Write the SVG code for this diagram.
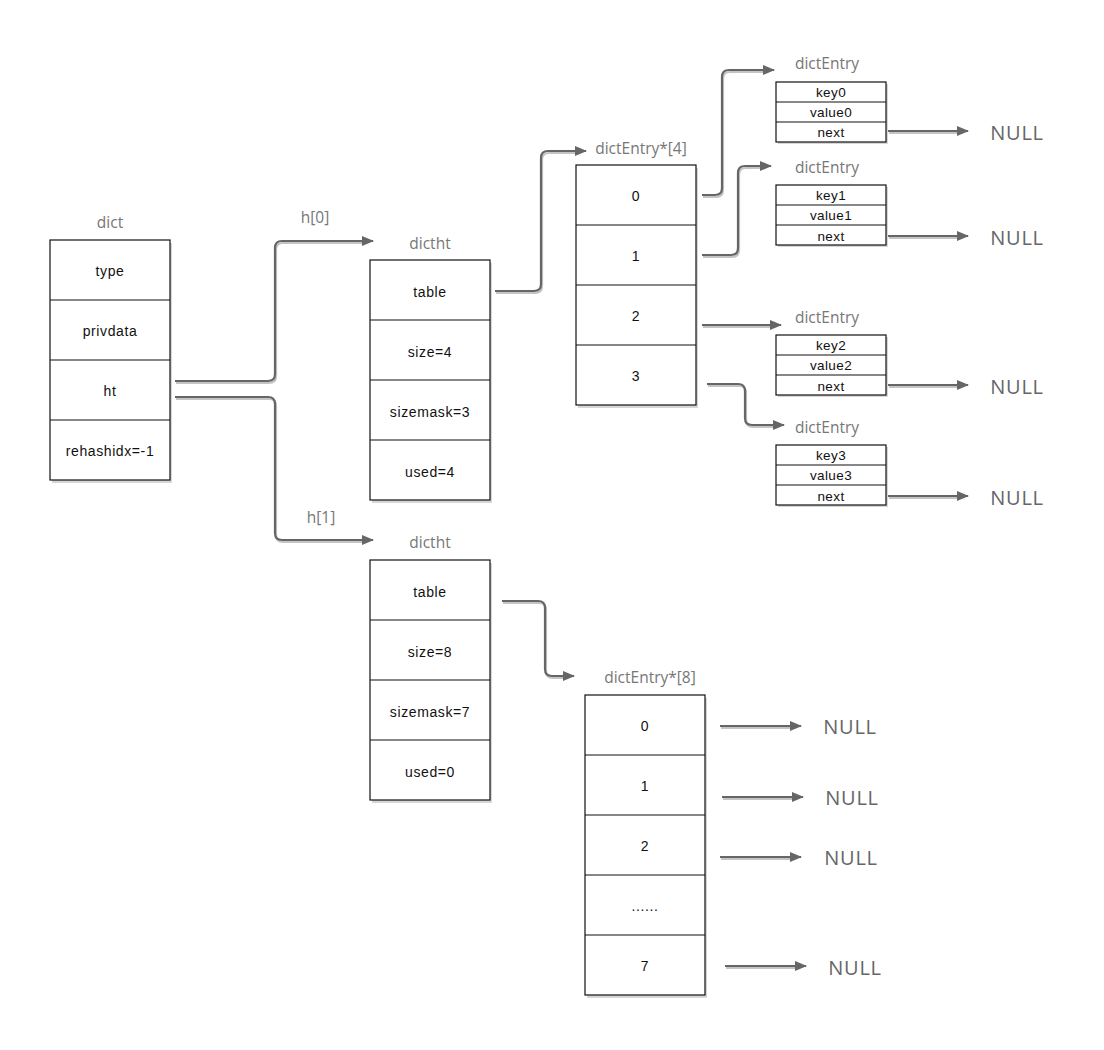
<svg xmlns="http://www.w3.org/2000/svg" width="1104" height="1050" viewBox="0 0 1104 1050">
<style>
.box{fill:#fff;stroke:#111;stroke-width:1.2}
.shadow{fill:#d6d6d6;stroke:none}
.div{stroke:#111;stroke-width:1.2}
.cell{font-family:"Liberation Sans",Arial,sans-serif;font-size:14px;letter-spacing:0.6px;fill:#111;text-anchor:middle;dominant-baseline:central}
.ecell{font-family:"Liberation Sans",Arial,sans-serif;font-size:13.5px;letter-spacing:0.4px;fill:#111;text-anchor:middle;dominant-baseline:central}
.lbl{font-family:"Open Sans","Liberation Sans",sans-serif;font-size:15.5px;fill:#777;text-anchor:middle;dominant-baseline:central}
.null{font-family:"Open Sans","Liberation Sans",sans-serif;font-size:20px;letter-spacing:0.8px;fill:#666;text-anchor:middle;dominant-baseline:central}
.conn{fill:none;stroke:#666;stroke-width:2.2;marker-end:url(#arr)}
.csh{fill:none;stroke:#c4c4c4;stroke-width:2.2}
</style>
<defs>
<marker id="arr" markerUnits="userSpaceOnUse" markerWidth="12" markerHeight="10" refX="11" refY="5" orient="auto">
<path d="M0,0 L12,5 L0,10 z" fill="#666"/>
</marker>
</defs>
<rect width="1104" height="1050" fill="#fff"/>

<g id="connectors">
<g id="conn-shadows" transform="translate(1,2)">
<path class="csh" d="M175,381 H268 Q275,381 275,374 V248 Q275,241 282,241 H362"/>
<path class="csh" d="M175,397 H268 Q275,397 275,404 V533 Q275,540 282,540 H362"/>
<path class="csh" d="M495,291 H534 Q541,291 541,284 V158 Q541,151 548,151 H575"/>
<path class="csh" d="M702,195 H715 Q722,195 722,188 V77 Q722,70 729,70 H763"/>
<path class="csh" d="M702,255 H731 Q738,255 738,248 V173 Q738,166 745,166 H760"/>
<path class="csh" d="M702,325 H770"/>
<path class="csh" d="M707,384 H738 Q745,384 745,391 V418 Q745,425 752,425 H773"/>
<path class="csh" d="M502,601 H538 Q545,601 545,608 V669 Q545,676 552,676 H563"/>
<path class="csh" d="M888,131 H957"/>
<path class="csh" d="M888,236 H957"/>
<path class="csh" d="M888,385 H957"/>
<path class="csh" d="M888,496 H957"/>
<path class="csh" d="M720,726 H790"/>
<path class="csh" d="M722,797 H792"/>
<path class="csh" d="M720,857 H790"/>
<path class="csh" d="M725,966 H795"/>
</g>
<path id="c-h0" class="conn" d="M175,381 H268 Q275,381 275,374 V248 Q275,241 282,241 H373"/>
<path id="c-h1" class="conn" d="M175,397 H268 Q275,397 275,404 V533 Q275,540 282,540 H373"/>
<path id="c-table0" class="conn" d="M495,291 H534 Q541,291 541,284 V158 Q541,151 548,151 H586"/>
<path id="c-b0" class="conn" d="M702,195 H715 Q722,195 722,188 V77 Q722,70 729,70 H774"/>
<path id="c-b1" class="conn" d="M702,255 H731 Q738,255 738,248 V173 Q738,166 745,166 H771"/>
<path id="c-b2" class="conn" d="M702,325 H781"/>
<path id="c-b3" class="conn" d="M707,384 H738 Q745,384 745,391 V418 Q745,425 752,425 H784"/>
<path id="c-table1" class="conn" d="M502,601 H538 Q545,601 545,608 V669 Q545,676 552,676 H574"/>
<path id="c-n0" class="conn" d="M888,131 H968"/>
<path id="c-n1" class="conn" d="M888,236 H968"/>
<path id="c-n2" class="conn" d="M888,385 H968"/>
<path id="c-n3" class="conn" d="M888,496 H968"/>
<path id="c-e0" class="conn" d="M720,726 H801"/>
<path id="c-e1" class="conn" d="M722,797 H803"/>
<path id="c-e2" class="conn" d="M720,857 H801"/>
<path id="c-e7" class="conn" d="M725,966 H806"/>
</g>

<g id="labels">
<text class="lbl" x="315" y="217">h[0]</text>
<text class="lbl" x="321" y="517">h[1]</text>
</g>

<g id="dict">
<text class="lbl" x="110" y="222">dict</text>
<rect class="shadow" x="52" y="243" width="120" height="240"/>
<rect class="box" x="50" y="240" width="120" height="240"/>
<line class="div" x1="50" y1="300" x2="170" y2="300"/>
<line class="div" x1="50" y1="360" x2="170" y2="360"/>
<line class="div" x1="50" y1="420" x2="170" y2="420"/>
<text class="cell" x="110" y="271">type</text>
<text class="cell" x="110" y="331">privdata</text>
<text class="cell" x="110" y="391">ht</text>
<text class="cell" x="110" y="451">rehashidx=-1</text>
</g>

<g id="dictht0">
<text class="lbl" x="430" y="243">dictht</text>
<rect class="shadow" x="372" y="263" width="120" height="240"/>
<rect class="box" x="370" y="260" width="120" height="240"/>
<line class="div" x1="370" y1="320" x2="490" y2="320"/>
<line class="div" x1="370" y1="380" x2="490" y2="380"/>
<line class="div" x1="370" y1="440" x2="490" y2="440"/>
<text class="cell" x="430" y="292">table</text>
<text class="cell" x="430" y="352">size=4</text>
<text class="cell" x="430" y="412">sizemask=3</text>
<text class="cell" x="430" y="472">used=4</text>
</g>

<g id="table4">
<text class="lbl" x="641" y="148">dictEntry*[4]</text>
<rect class="shadow" x="578" y="168" width="120" height="240"/>
<rect class="box" x="576" y="165" width="120" height="240"/>
<line class="div" x1="576" y1="225" x2="696" y2="225"/>
<line class="div" x1="576" y1="285" x2="696" y2="285"/>
<line class="div" x1="576" y1="345" x2="696" y2="345"/>
<text class="cell" x="636" y="196">0</text>
<text class="cell" x="636" y="256">1</text>
<text class="cell" x="636" y="316">2</text>
<text class="cell" x="636" y="376">3</text>
</g>

<g id="entry0">
<text class="lbl" x="827" y="63">dictEntry</text>
<rect class="shadow" x="778" y="84" width="110" height="60"/>
<rect class="box" x="776" y="82" width="110" height="60"/>
<line class="div" x1="776" y1="102" x2="886" y2="102"/>
<line class="div" x1="776" y1="122" x2="886" y2="122"/>
<text class="ecell" x="831" y="92">key0</text>
<text class="ecell" x="831" y="112">value0</text>
<text class="ecell" x="831" y="132">next</text>
</g>

<g id="entry1">
<text class="lbl" x="827" y="167">dictEntry</text>
<rect class="shadow" x="778" y="187" width="110" height="60"/>
<rect class="box" x="776" y="185" width="110" height="60"/>
<line class="div" x1="776" y1="205" x2="886" y2="205"/>
<line class="div" x1="776" y1="225" x2="886" y2="225"/>
<text class="ecell" x="831" y="195">key1</text>
<text class="ecell" x="831" y="215">value1</text>
<text class="ecell" x="831" y="236">next</text>
</g>

<g id="entry2">
<text class="lbl" x="827" y="317">dictEntry</text>
<rect class="shadow" x="778" y="337" width="110" height="60"/>
<rect class="box" x="776" y="335" width="110" height="60"/>
<line class="div" x1="776" y1="355" x2="886" y2="355"/>
<line class="div" x1="776" y1="375" x2="886" y2="375"/>
<text class="ecell" x="831" y="345">key2</text>
<text class="ecell" x="831" y="365">value2</text>
<text class="ecell" x="831" y="386">next</text>
</g>

<g id="entry3">
<text class="lbl" x="827" y="427">dictEntry</text>
<rect class="shadow" x="778" y="447" width="110" height="60"/>
<rect class="box" x="776" y="445" width="110" height="60"/>
<line class="div" x1="776" y1="465" x2="886" y2="465"/>
<line class="div" x1="776" y1="485" x2="886" y2="485"/>
<text class="ecell" x="831" y="455">key3</text>
<text class="ecell" x="831" y="475">value3</text>
<text class="ecell" x="831" y="496">next</text>
</g>

<g id="nulls-top">
<text class="null" x="1017" y="132">NULL</text>
<text class="null" x="1017" y="237">NULL</text>
<text class="null" x="1017" y="386">NULL</text>
<text class="null" x="1017" y="497">NULL</text>
</g>

<g id="dictht1">
<text class="lbl" x="430" y="542">dictht</text>
<rect class="shadow" x="372" y="563" width="120" height="240"/>
<rect class="box" x="370" y="560" width="120" height="240"/>
<line class="div" x1="370" y1="620" x2="490" y2="620"/>
<line class="div" x1="370" y1="680" x2="490" y2="680"/>
<line class="div" x1="370" y1="740" x2="490" y2="740"/>
<text class="cell" x="430" y="592">table</text>
<text class="cell" x="430" y="652">size=8</text>
<text class="cell" x="430" y="712">sizemask=7</text>
<text class="cell" x="430" y="772">used=0</text>
</g>

<g id="table8">
<text class="lbl" x="650" y="677">dictEntry*[8]</text>
<rect class="shadow" x="587" y="698" width="120" height="300"/>
<rect class="box" x="585" y="695" width="120" height="300"/>
<line class="div" x1="585" y1="755" x2="705" y2="755"/>
<line class="div" x1="585" y1="815" x2="705" y2="815"/>
<line class="div" x1="585" y1="875" x2="705" y2="875"/>
<line class="div" x1="585" y1="935" x2="705" y2="935"/>
<text class="cell" x="645" y="726">0</text>
<text class="cell" x="645" y="786">1</text>
<text class="cell" x="645" y="846">2</text>
<text class="cell" x="645" y="906">......</text>
<text class="cell" x="645" y="966">7</text>
</g>

<g id="nulls-bottom">
<text class="null" x="850" y="726">NULL</text>
<text class="null" x="852" y="797">NULL</text>
<text class="null" x="851" y="857">NULL</text>
<text class="null" x="855" y="967">NULL</text>
</g>
</svg>
